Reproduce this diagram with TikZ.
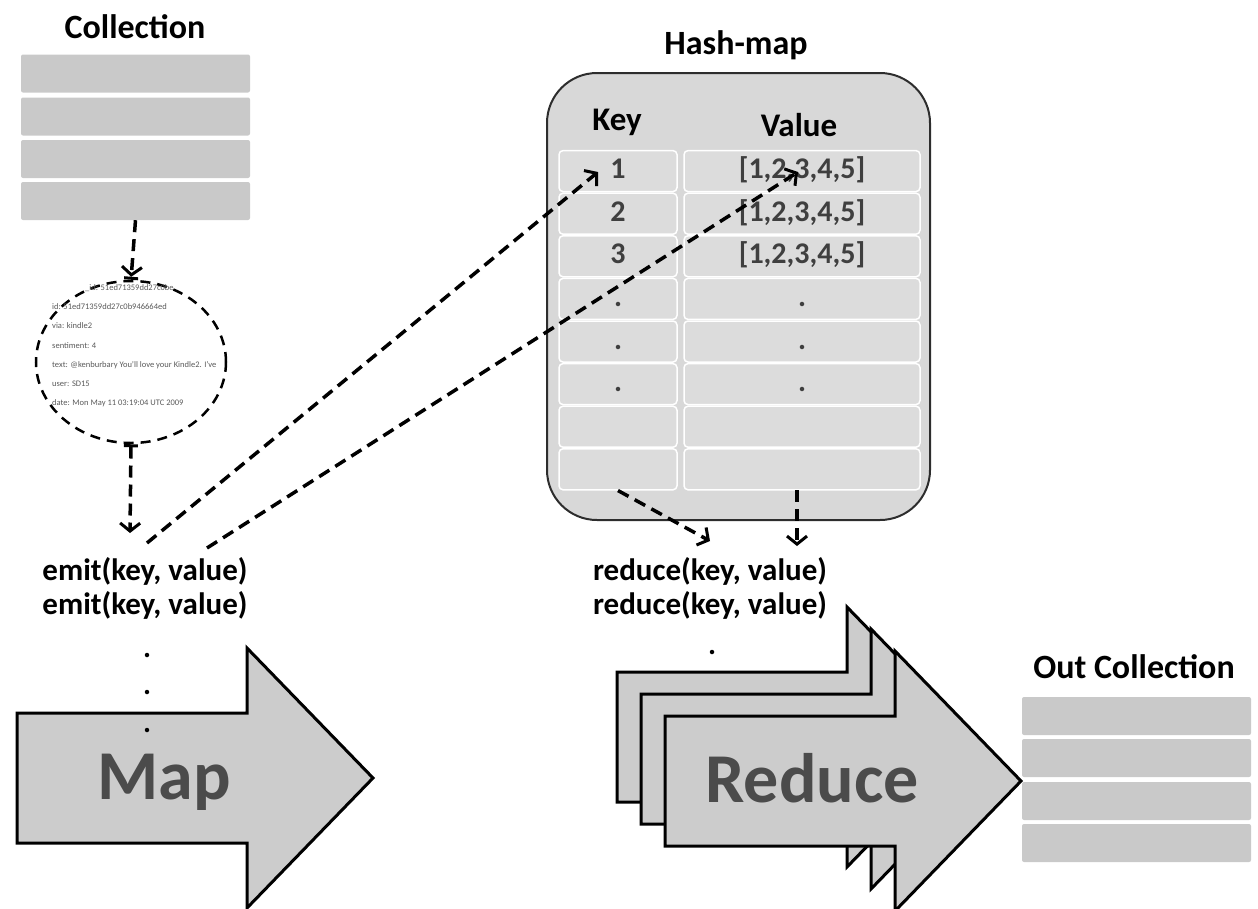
\documentclass[tikz,border=0pt]{standalone}
\usepackage{fontspec}
\setmainfont{Carlito}
\usepackage{xcolor}
\usepackage{tikz}
\usetikzlibrary{arrows.meta}
\usetikzlibrary{shapes.geometric}
\definecolor{slabgray}{HTML}{C9C9C9}
\definecolor{mapgray}{HTML}{D8D8D8}
\definecolor{cellgray}{HTML}{DCDCDC}
\definecolor{arrowgray}{HTML}{CCCCCC}
\definecolor{wordgray}{HTML}{4B4B4B}
\definecolor{cellink}{HTML}{3F3F3F}
\tikzset{
    pics/bigarrow/.style args={#1/#2}{
    code = {
		\draw[fill=arrowgray, line width=3pt, miter limit=20] (0,0) -- (230,0) -- (230,-65)
         -- (356,65) -- (230,195) -- (230,130) -- (0,130) -- cycle;
	    \node[text=wordgray, font=\fontsize{70}{80}\selectfont\bfseries,
	      text height=50pt, text depth=15pt] (#1) at (147,69) {#2};
    }}
}

\begin{document}
\begin{tikzpicture}[x=1pt, y=-1pt,
    slabrow/.style={fill=slabgray, minimum width=229pt, minimum height=38pt, inner sep=0pt, rounded corners=2pt},
    headline/.style={font=\fontsize{34}{40}\selectfont\bfseries},
    calltext/.style={font=\fontsize{31}{36}\selectfont\bfseries, inner sep=0pt},
    cell/.style={fill=cellgray, draw=white, line width=1.5pt, rounded corners=4pt, minimum height=41pt,
      inner sep=0pt, text=cellink, font=\fontsize{30}{36}\selectfont\bfseries, text height=21pt, text depth=6pt},
    dotmark/.style={circle, fill=black, inner sep=0pt, minimum size=4.5pt},
    flow/.style={line width=3.5pt, dash pattern=on 12pt off 7pt,
      -{Straight Barb[length=8pt, width=20pt, line width=3pt]}}]
		\useasboundingbox (0,0) rectangle (1258,908);

		% input collection
	    \node[headline] (colltitle) at (135,27) {Collection};
		\node[slabrow] (coll1) at (135.5,73.5) {};
		\node[slabrow] (coll2) at (135.5,116.5) {};
		\node[slabrow] (coll3) at (135.5,159) {};
		\node[slabrow] (coll4) at (135.5,201) {};

		% one document
		\node[ellipse, draw, line width=2.5pt, dash pattern=on 10pt off 7pt, minimum width=190pt,
		  minimum height=162pt, inner sep=0pt] (doc) at (131,362) {};
		\node[anchor=north west, align=left, inner sep=0pt, text=gray!70!black,
		  font=\fontsize{8.5}{19.3}\selectfont] (doctxt) at (52,284)
		  {\hspace*{33pt}\_id: 51ed71359dd27c0be\\
		   id: 51ed71359dd27c0b946664ed\\
		   via: kindle2\\
		   sentiment: 4\\
		   text: @kenburbary You'll love your Kindle2. I've\\
		   user: SD15\\
		   date: Mon May 11 03:19:04 UTC 2009};

		% map side
	    \node[calltext] (emitA) at (145,571) {emit(key, value)};
	    \node[calltext] (emitB) at (145,605) {emit(key, value)};
		\pic at (17,713) {bigarrow=mapword/Map};
		\node[dotmark] (emitdotA) at (147,655) {};
		\node[dotmark] (emitdotB) at (147,692) {};
		\node[dotmark] (emitdotC) at (147,730) {};

		% hash-map
	    \node[headline] (hashtitle) at (736,45) {Hash-map};
		\node[draw=gray!35!black, line width=2pt, fill=mapgray, rounded corners=50pt,
		  minimum width=383pt, minimum height=447pt] (hash) at (738.5,296.5) {};
	    \node[font=\fontsize{33}{40}\selectfont\bfseries] (keyhead) at (617,122) {Key};
	    \node[font=\fontsize{33}{40}\selectfont\bfseries] (valhead) at (799,125) {Value};
		\foreach \i/\k/\v in {1/1/{[1,2,3,4,5]}, 2/2/{[1,2,3,4,5]}, 3/3/{[1,2,3,4,5]},
		    4/./., 5/./., 6/./., 7//, 8//}{
			\node[cell, minimum width=118pt] (key\i) at (618,{128.5+42.6*\i}) {\k};
			\node[cell, minimum width=236pt] (val\i) at (802,{128.5+42.6*\i}) {\v};
		}

		% reduce side
	    \node[calltext] (reduceA) at (710,571) {reduce(key, value)};
	    \node[calltext] (reduceB) at (710,605) {reduce(key, value)};
		\node[dotmark] (reducedot) at (712,652) {};
		\pic at (617,672) {bigarrow=reduceC/{}};
		\pic at (641,694) {bigarrow=reduceB/{}};
		\pic at (665,716) {bigarrow=reduceword/Reduce};

		% output collection
	    \node[headline] (outtitle) at (1134,667) {Out Collection};
		\node[slabrow] (out1) at (1136.5,716) {};
		\node[slabrow] (out2) at (1136.5,758) {};
		\node[slabrow] (out3) at (1136.5,801) {};
		\node[slabrow] (out4) at (1136.5,843) {};

		% arrows
		\coordinate (emitin) at (130,533);
		\coordinate (mapoutA) at (147,543);
		\coordinate (mapoutB) at (207,548);
		\coordinate (keyin) at (598,172);
		\coordinate (valin) at (798,172);
		\coordinate (reducein) at (710,541);
		\coordinate (hashout) at (797,490);
		\coordinate (reduceinB) at (797,546);
		\draw[flow, -{Straight Barb[length=8pt, width=20pt, line width=3pt] Bar[width=14pt, line width=3pt]}]
		  (coll4.south) -- (doc.north);
		\draw[flow, {Bar[width=14pt, line width=3pt]}-{Straight Barb[length=8pt, width=20pt, line width=3pt]}]
		  (doc.south) -- (emitin);
		\draw[flow] (mapoutA) -- (keyin);
		\draw[flow] (mapoutB) -- (valin);
		\draw[flow] (key8.south) -- (reducein);
		\draw[flow] (hashout) -- (reduceinB);
\end{tikzpicture}
\end{document}
